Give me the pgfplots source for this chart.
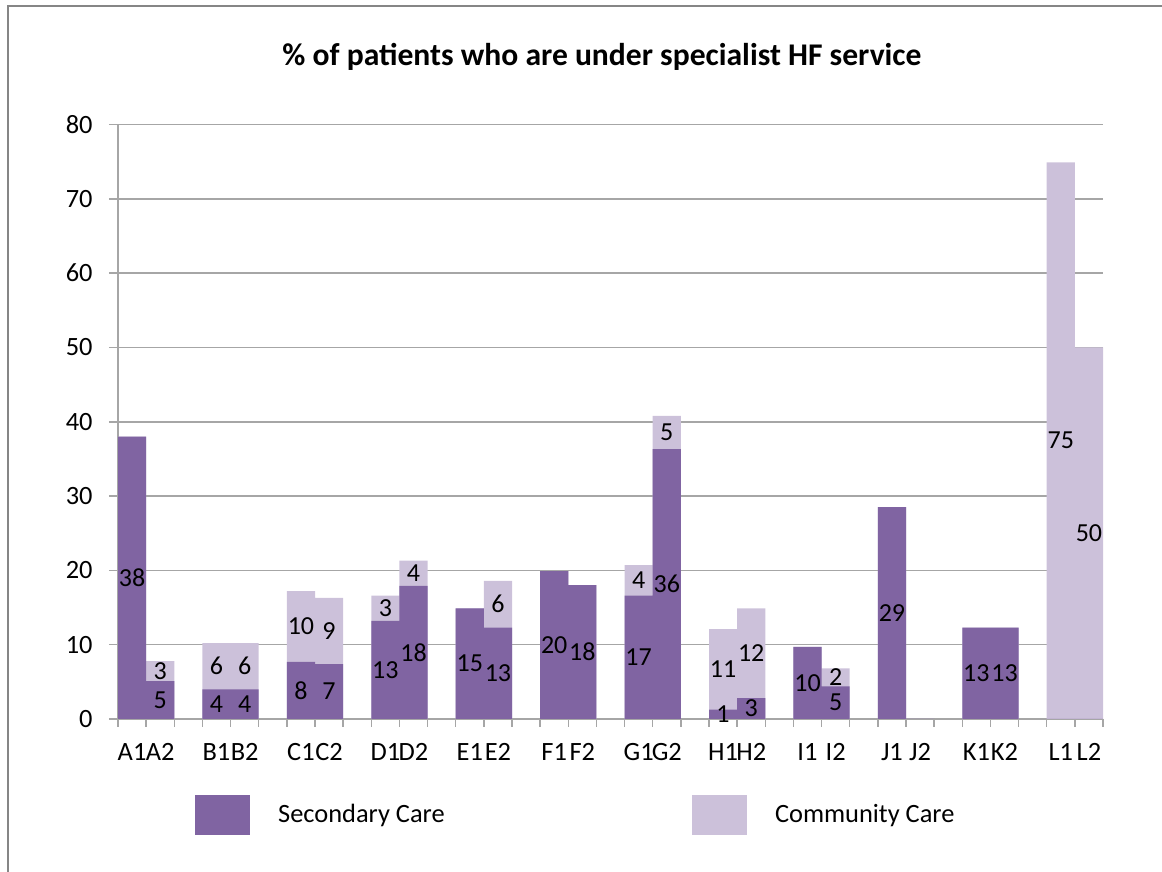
\documentclass[border=0pt]{standalone}
\usepackage{pgfplots}
\pgfplotsset{compat=1.18}
\usepackage{pgfplotstable}
\usepackage{fontspec}
\setmainfont{Carlito}
\definecolor{secc}{HTML}{8064A2}
\definecolor{comm}{HTML}{CCC1DA}
\definecolor{gridc}{HTML}{A6A6A6}
\definecolor{framec}{HTML}{868686}

\pgfplotstableread{
x sec com
0 38.0 0
1 5.1 2.7
3 4.0 6.2
4 4.0 6.2
6 7.7 9.5
7 7.4 8.9
9 13.2 3.4
10 17.9 3.4
12 14.9 0
13 12.3 6.3
15 19.9 0
16 18.0 0
18 16.6 4.1
19 36.3 4.5
21 1.25 10.85
22 2.8 12.1
24 9.7 0
25 4.4 2.4
27 28.5 0
28 0 0
30 12.3 0
31 12.3 0
33 0 74.9
34 0 50.0
}\data

\pgfplotstableread{
x sec lab
0 38.0 38
1 5.1 5
3 4.0 4
4 4.0 4
6 7.7 8
7 7.4 7
9 13.2 13
10 17.9 18
12 14.9 15
13 12.3 13
15 19.9 20
16 18.0 18
18 16.6 17
19 36.3 36
21 1.25 1
22 2.8 3
24 9.7 10
25 4.4 5
27 28.5 29
30 12.3 13
31 12.3 13
}\seclab

\pgfplotstableread{
x sec com lab
1 5.1 2.7 3
3 4.0 6.2 6
4 4.0 6.2 6
6 7.7 9.5 10
7 7.4 8.9 9
9 13.2 3.4 3
10 17.9 3.4 4
13 12.3 6.3 6
18 16.6 4.1 4
19 36.3 4.5 5
21 1.25 10.85 11
22 2.8 12.1 12
25 4.4 2.4 2
33 0 74.9 75
34 0 50.0 50
}\comlab

\begin{document}
\begin{tikzpicture}
\path[use as bounding box] (0,0) rectangle (581pt,436pt);
\draw[framec, line width=1pt] (4pt,0) -- (4pt,433pt) -- (581pt,433pt);
\begin{axis}[
  at={(59pt,76.5pt)}, anchor=south west,
  scale only axis, width=492.5pt, height=297.25pt,
  xmin=-0.5, xmax=34.5, ymin=0, ymax=80,
  clip=false,
  axis lines=left, axis line style={-, gridc, line width=0.75pt},
  ytick={0,10,...,80},
  xtick={0,1,3,4,6,7,9,10,12,13,15,16,18,19,21,22,24,25,27,28,30,31,33,34},
  xticklabels={A1,A2,B1,B2,C1,C2,D1,D2,E1,E2,F1,F2,G1,G2,H1,H2,I1,I2,J1,J2,K1,K2,L1,L2},
  minor xtick={-0.5,0.5,...,34.5},
  tick align=outside,
  major tick length=4.5pt, minor tick length=4pt,
  every major x tick/.append style={draw=none},
  tick style={gridc, line width=0.75pt},
  ymajorgrids, grid style={gridc, line width=0.75pt},
  /pgf/number format/assume math mode=true,
  tick label style={font=\fontsize{13.2}{15.5}\selectfont, text=black},
  yticklabel style={inner sep=0pt, xshift=-8pt},
  xticklabel style={inner sep=0pt, yshift=-7.5pt},
  title={\% of patients who are under specialist HF service},
  title style={at={(0.4914,1)}, anchor=base, yshift=23.5pt, inner sep=0pt,
    font=\bfseries\fontsize{15.8}{18}\selectfont},
  legend style={at={(0.0782,-0.1615)}, anchor=west, draw=none, fill=none,
    inner sep=0pt, legend columns=2, font=\fontsize{13.2}{15.5}\selectfont,
    nodes={inner sep=0pt},
    /tikz/every odd column/.append style={column sep=14pt}},
]
\addplot[ybar, bar width=1, bar shift=0pt, fill=comm, draw=none, forget plot]
  table[x=x, y expr=\thisrow{sec}+\thisrow{com}] {\data};
\addplot[ybar, bar width=1, bar shift=0pt, fill=secc, draw=none, forget plot]
  table[x=x, y=sec] {\data};

\addplot[draw=none, mark=none, forget plot, nodes near coords,
  point meta=explicit symbolic, nodes near coords align=center,
  every node near coord/.append style={font=\fontsize{13}{15.5}\selectfont, inner sep=0pt, anchor=center, text=black}]
  table[x=x, y expr=\thisrow{sec}/2, meta=lab] {\seclab};
\addplot[draw=none, mark=none, forget plot, nodes near coords,
  point meta=explicit symbolic, nodes near coords align=center,
  every node near coord/.append style={font=\fontsize{13}{15.5}\selectfont, inner sep=0pt, anchor=center, text=black}]
  table[x=x, y expr=\thisrow{sec}+\thisrow{com}/2, meta=lab] {\comlab};

\addlegendimage{legend image code/.code={\fill[secc] (0pt,-9.75pt) rectangle (27pt,9.75pt);}}
\addlegendentry{\makebox[207pt][l]{Secondary Care}}
\addlegendimage{legend image code/.code={\fill[comm] (0pt,-9.75pt) rectangle (27pt,9.75pt);}}
\addlegendentry{Community Care}
\end{axis}
\end{tikzpicture}
\end{document}
